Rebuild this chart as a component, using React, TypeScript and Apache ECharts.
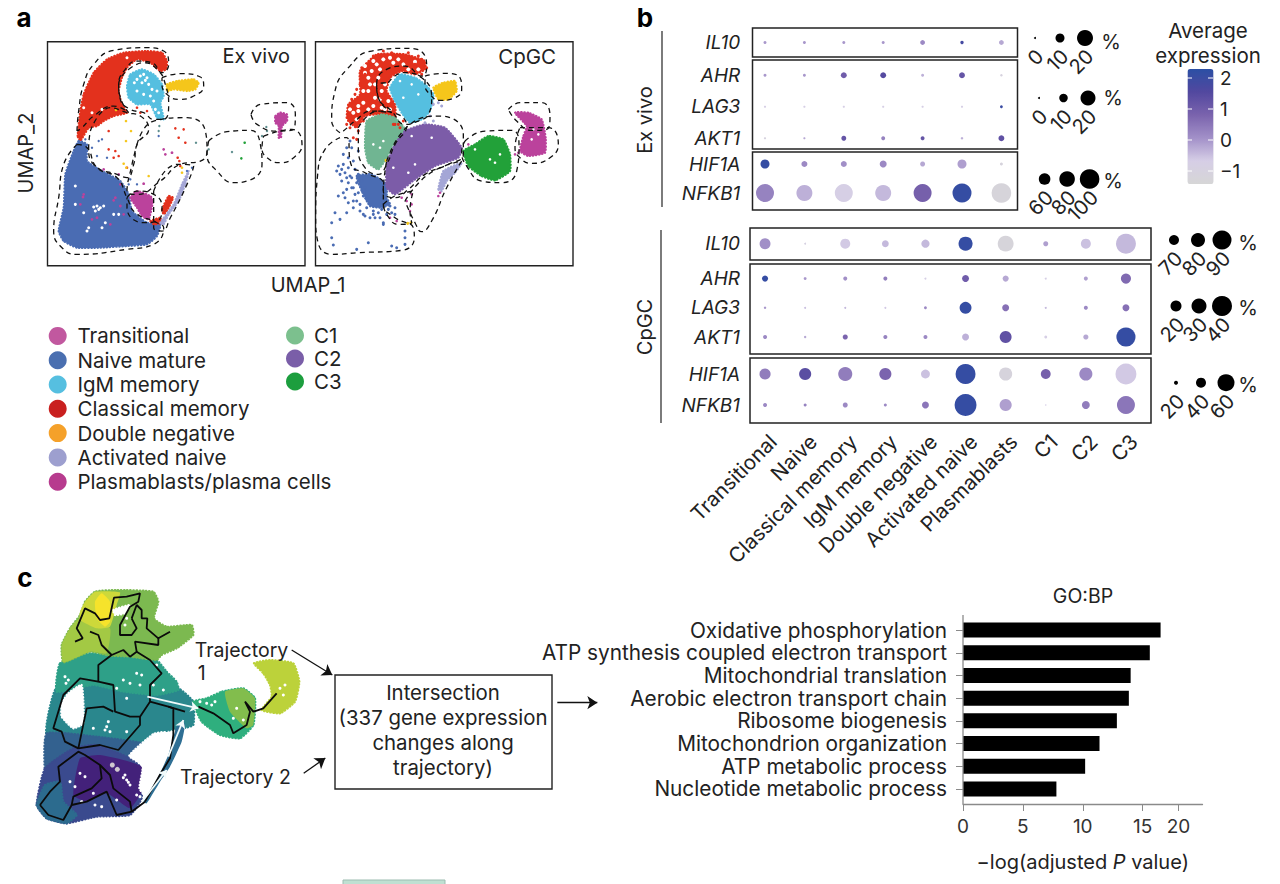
import React, { useEffect, useRef } from "react";
import * as echarts from "echarts";

const FONT = "Inter";
type P = number[];

/* ---------- panel a: cluster palette ---------- */
const legendColA = ["Transitional", "Naive mature", "IgM memory", "Classical memory", "Double negative", "Activated naive", "Plasmablasts/plasma cells"];
const legendColB = ["C1", "C2", "C3"];
const legendColors: Record<string, string> = {
  "Transitional": "#c1589f", "Naive mature": "#4a6fb0", "IgM memory": "#56bfe0", "Classical memory": "#c9201f",
  "Double negative": "#f5a12a", "Activated naive": "#9d9fcf", "Plasmablasts/plasma cells": "#b73b8e",
  "C1": "#7cc08e", "C2": "#7a5ea8", "C3": "#1c9e3e",
};
const RED = "#e3311d", CYAN = "#55bfe0", YEL = "#f5c61b", BLUE = "#4a6cb3", MAG = "#bb429c", LAV = "#a4a6d6", C1C = "#70b592", C2C = "#7c5ca8", C3C = "#22a139";

/* Ex vivo: filled cluster outlines (UMAP-like units) */
const exRed: P[] = [[92,285],[100,210],[110,160],[140,95],[180,55],[230,35],[300,30],[345,35],[360,60],[358,85],[340,90],[310,65],[270,55],[240,80],[225,110],[215,150],[225,190],[240,215],[200,225],[170,240],[150,255],[125,260],[100,300]];
const exCyan: P[] = [[250,100],[285,85],[320,100],[345,130],[350,165],[340,185],[350,235],[330,230],[310,190],[270,190],[245,170],[240,135]];
const exYellow: P[] = [[360,130],[390,120],[440,115],[455,125],[445,145],[420,150],[380,145],[360,150]];
const exBlue: P[] = [[95,300],[120,310],[120,360],[165,390],[220,420],[245,460],[255,510],[300,545],[340,550],[330,585],[300,610],[240,615],[160,620],[90,620],[50,600],[35,570],[50,500],[55,400],[80,330]];
const exTrans: P[] = [[250,470],[270,450],[310,465],[318,480],[305,535],[285,525],[270,500]];
const exRedLowA: P[] = [[310,540],[340,530],[345,545],[320,550]];
const exRedLowB: P[] = [[345,505],[365,465],[378,470],[360,510],[350,520]];
const exLav: P[] = [[340,545],[380,490],[405,430],[425,390],[415,430],[395,480],[365,520],[350,550]];
const exPlasma: P[] = [[685,225],[700,215],[720,220],[720,240],[705,255],[702,290],[695,290],[695,255],[685,245]];
/* Ex vivo: stray cells */
const exRedDots: P[] = [[185,325],[205,330],[215,345],[240,380],[185,270],[385,262],[410,265],[395,290],[415,305],[392,350],[397,360],[400,375],[270,200],[300,210],[280,215],[200,350]];
const exYellowDots: P[] = [[237,240],[252,270],[237,300],[305,405],[230,368],[238,380],[405,380],[405,395],[207,207]];
const exMagDots: P[] = [[350,325],[355,340],[290,428],[375,335],[170,385],[215,400],[220,430],[110,460],[205,470],[100,490],[135,535],[150,530],[190,550],[230,520],[220,495],[108,468],[200,478]];
const exGreenDots: P[] = [[593,305],[583,352]];
const exSlateDots: P[] = [[555,333],[658,258],[660,270],[645,285],[447,305],[485,325],[335,270],[337,255]];
const exBlueDots: P[] = [[115,295],[165,295],[155,300],[135,320],[150,345],[180,350],[270,430],[250,415],[245,430],[335,285],[420,390],[435,380]];
const exWhite: P[] = [[150,495],[160,500],[145,510],[170,495],[110,515],[85,435],[175,545],[200,520],[125,560],[165,560],[215,520],[85,490],[120,570],[270,115],[290,100],[300,110],[285,125],[305,130],[270,150],[310,165],[320,180],[330,150],[155,505],[140,498],[280,105],[295,118],[262,125],[315,145],[290,160],[325,205],[335,215],[110,200],[135,215],[165,205],[240,50]];

/* Ex vivo: dashed gates */
const exGates: P[][] = [
  [[90,270],[95,210],[110,130],[140,70],[200,28],[300,20],[350,30],[365,70],[345,95],[315,65],[270,60],[235,85],[215,130],[222,175],[245,215],[200,195],[140,225],[105,260],[90,270]],
  [[245,85],[290,65],[335,90],[355,130],[365,190],[350,235],[320,235],[290,215],[250,205],[220,175],[215,130],[245,85]],
  [[345,110],[400,98],[460,108],[470,135],[440,165],[395,175],[360,160],[345,130],[345,110]],
  [[90,310],[50,370],[35,470],[20,570],[45,620],[90,640],[240,625],[320,610],[350,560],[330,545],[265,515],[240,470],[210,410],[150,380],[120,320],[90,310]],
  [[130,270],[190,200],[240,215],[280,225],[305,265],[270,310],[260,370],[240,410],[210,400],[145,375],[125,320],[130,270]],
  [[270,310],[320,240],[420,230],[475,270],[480,330],[460,360],[400,370],[340,420],[270,460],[240,450],[255,370],[270,310]],
  [[320,450],[390,370],[440,375],[420,430],[370,530],[345,570],[320,560],[320,450]],
  [[240,470],[270,450],[320,460],[345,500],[330,540],[290,545],[240,500],[240,470]],
  [[485,300],[540,272],[610,268],[640,310],[645,370],[600,420],[560,425],[510,390],[480,340],[485,300]],
  [[612,220],[640,190],[720,185],[745,220],[740,265],[690,270],[630,250],[612,220]],
  [[650,285],[735,265],[765,310],[740,350],[700,365],[660,350],[645,320],[650,285]],
];

/* CpGC: filled cluster outlines */
const cpRed: P[] = [[95,230],[100,190],[135,160],[135,90],[185,40],[270,40],[330,60],[330,85],[300,100],[260,90],[225,110],[215,150],[240,190],[240,240],[200,220],[150,225],[125,260],[100,240]];
const cpCyan: P[] = [[225,140],[255,100],[300,110],[330,130],[355,160],[345,210],[320,235],[285,245],[260,215],[240,180]];
const cpYellow: P[] = [[355,140],[385,125],[420,120],[425,150],[400,175],[370,175]];
const cpC1: P[] = [[155,240],[200,220],[240,230],[270,265],[235,310],[215,350],[190,385],[160,365],[150,320]];
const cpC2: P[] = [[270,270],[330,250],[390,260],[440,320],[430,350],[360,375],[300,415],[240,460],[215,440],[215,370],[240,310]];
const cpC3: P[] = [[445,330],[480,310],[520,285],[565,295],[585,340],[585,390],[540,418],[500,405],[460,375]];
const cpLav: P[] = [[370,445],[385,390],[440,365],[420,395],[395,420],[380,450]];
const cpPlasma: P[] = [[600,215],[640,215],[680,235],[692,290],[690,335],[640,345],[615,330],[625,285],[635,255]];
const cpBlue: P[] = [[125,405],[170,400],[215,430],[215,470],[225,490],[195,500],[165,495],[140,450]];
/* CpGC: scattered cells */
const cpRedDots: P[] = [[115,290],[105,260],[125,295],[95,250],[205,30],[150,100],[155,120],[135,130],[120,160],[165,165],[200,170],[255,70],[300,70],[325,70],[320,100],[240,250],[255,260],[235,250],[130,270],[175,45],[230,35],[280,35],[310,45],[140,80],[125,145],[110,175],[320,55],[335,80],[250,250],[265,240],[120,250],[145,240]];
const cpRedWhite: P[] = [[170,90],[190,110],[165,130],[195,85],[235,65],[280,85],[210,130],[180,170],[145,185],[115,215],[160,205],[130,210],[195,175],[220,180],[185,70],[160,110],[250,55],[300,62],[225,50],[145,150],[200,200],[150,75],[175,60],[205,55],[265,70],[310,85],[150,95],[180,130],[200,150],[160,150],[130,195],[175,195],[210,205],[225,205],[125,235],[105,205]];
const cpWhite: P[] = [[255,120],[290,130],[265,170],[310,160],[205,300],[195,320],[175,310],[350,290],[290,285],[480,325],[525,355],[540,365],[555,340],[650,295],[655,265],[670,280],[235,380],[280,395],[300,370]];
const cpYellowDots: P[] = [[213,358],[278,547],[288,545]];
const cpMagDots: P[] = [[260,470],[275,480],[290,490],[285,510],[290,460],[225,530],[245,540],[370,465],[600,340],[610,335],[375,455],[460,310]];
const cpLavDots: P[] = [[370,185],[355,190],[380,195],[345,225],[330,245],[355,240]];
const cpBlueDots: P[] = [[105,300],[95,320],[85,340],[100,350],[70,375],[85,370],[100,380],[115,360],[75,400],[90,395],[80,420],[100,425],[110,440],[70,465],[90,470],[100,485],[115,480],[135,510],[150,525],[165,530],[175,520],[195,530],[205,545],[215,520],[210,490],[240,500],[95,515],[60,515],[75,535],[50,545],[50,590],[55,612],[125,625],[160,605],[205,550],[230,615],[245,620],[270,590],[270,610],[270,570],[130,330],[110,320],[120,385],[95,410],[105,405],[125,425],[145,520],[155,500],[180,530],[225,495],[230,515],[120,460],[115,440],[110,410],[130,400],[140,420],[150,440],[130,455],[145,465],[125,480],[135,490],[155,475],[115,500],[175,510],[190,515],[200,505],[220,505],[80,385],[65,390],[95,445],[85,455],[240,520]];

const cpGates: P[][] = [
  [[75,275],[50,240],[60,150],[100,80],[170,30],[280,22],[330,45],[335,80],[320,105],[270,75],[215,85],[185,130],[190,170],[230,215],[170,210],[120,240],[85,270],[75,275]],
  [[220,125],[265,95],[320,110],[350,170],[340,220],[310,240],[270,250],[230,210],[190,170],[185,130],[220,125]],
  [[330,105],[385,97],[435,110],[440,145],[415,172],[375,178],[345,160],[330,130],[330,105]],
  [[75,290],[30,325],[8,400],[2,530],[8,600],[50,640],[130,635],[260,628],[298,590],[295,560],[240,530],[205,490],[205,430],[150,395],[110,375],[95,290],[75,290]],
  [[130,260],[190,210],[235,215],[275,255],[240,310],[215,370],[190,400],[150,380],[130,320],[130,260]],
  [[215,360],[285,250],[375,225],[445,280],[445,340],[400,370],[330,400],[280,445],[240,470],[205,450],[215,360]],
  [[270,480],[340,400],[440,360],[395,440],[350,540],[320,572],[300,545],[270,480]],
  [[205,490],[240,465],[295,450],[285,510],[290,545],[250,550],[215,520],[205,490]],
  [[450,300],[510,270],[590,268],[612,310],[605,390],[560,425],[500,420],[455,375],[440,330],[450,300]],
  [[580,205],[615,185],[680,185],[705,225],[695,265],[650,268],[605,240],[580,205]],
  [[615,260],[700,260],[730,310],[705,350],[650,367],[615,350],[600,320],[615,260]],
];

/* ---------- panel b: dot plot ---------- */
const exCols = ["Transitional", "Naive", "Classical memory", "IgM memory", "Double negative", "Activated naive", "Plasmablasts"];
const cpCols = [...exCols, "C1", "C2", "C3"];
const genesA = ["IL10"], genesB = ["AHR", "LAG3", "AKT1"], genesC = ["HIF1A", "NFKB1"];

const exIL10Pct = [1.5,1.5,1.5,1.5,4,2,4], exIL10Avg = [0,0,0,0,0.2,1.8,-0.2];
const exAHRPct = [1.5,1.5,6,6,1.5,6,0.8], exAHRAvg = [0,0,1,1.5,-0.3,1.2,-1];
const exLAG3Pct = [0.3,0.3,0.3,0.3,0.3,0.3,1.2], exLAG3Avg = [-0.7,-0.7,-0.7,-0.7,-0.7,-0.7,2];
const exAKT1Pct = [0.3,0.3,4.5,3,3,0.8,6], exAKT1Avg = [-1,-0.2,1.2,0.3,1.2,-0.3,1.3];
const exHIF1APct = [47,32,32,37,27,47,17], exHIF1AAvg = [2.1,0.2,0.1,0.2,-0.2,-0.1,-1.1];
const exNFKB1Pct = [92,82,92,82,92,97,100], exNFKB1Avg = [0.3,-0.3,-0.7,-0.4,0.9,2.1,-1.2];
const cpIL10Pct = [72,52,70,63,66,79,83,59,70,92], cpIL10Avg = [0.1,-0.9,-0.6,-0.4,-0.4,2.1,-1.2,-0.1,-0.5,-0.4];
const cpAHRPct = [9,2,4.5,4.5,0,11,9,0,4.5,18], cpAHRAvg = [2.1,0,0.1,0.4,-0.7,1,-0.2,-0.7,-0.1,0.7];
const cpLAG3Pct = [1,0,0,0,2,22,11,0,4.5,11], cpLAG3Avg = [0,-0.5,-0.4,-0.6,0.2,2.1,0.6,-0.4,0.2,0.6];
const cpAKT1Pct = [4.5,1,7,4.5,4.5,11,22,2,7,38], cpAKT1Avg = [0.2,-0.2,0.8,0.3,0.2,-0.3,1.3,-0.7,-0.2,2.1];
const cpHIF1APct = [42,45,51,45,35,69,48,38,48,72], cpHIF1AAvg = [0.4,1.4,0.4,0.8,-0.5,2.1,-1.1,0.9,0.2,-0.6];
const cpNFKB1Pct = [20,17,23,17,29,75,45,12,32,63], cpNFKB1Avg = [0.2,0.3,0.2,0.2,0.5,2.1,-0.1,-0.6,0.4,0.5];

const colorbarTicks = [2, 1, 0, -1];
const colorbarLabels = ["2", "1", "0", "\u22121"];

/* ---------- panel c: trajectory map outlines ---------- */
const cLime: P[] = [[165,50],[195,20],[260,15],[370,20],[385,50],[372,100],[410,125],[485,120],[490,150],[440,190],[395,210],[380,225],[300,215],[240,212],[180,200],[100,232],[95,180],[120,130],[150,90]];
const cOliveLeft: P[] = [[100,232],[95,180],[120,130],[150,100],[240,130],[230,205],[180,200]];
const cYellowGreen: P[] = [[150,80],[165,50],[195,20],[270,22],[260,60],[240,125],[200,130],[150,105]];
const cYellow: P[] = [[195,50],[215,25],[240,50],[240,110],[225,125],[200,100]];
const cTealGreen: P[] = [[90,235],[180,205],[240,212],[300,215],[380,225],[410,260],[440,290],[445,315],[380,330],[280,320],[190,300],[80,320]];
const cTeal: P[] = [[78,310],[190,290],[280,310],[380,320],[445,310],[490,350],[490,420],[460,430],[400,440],[335,480],[280,470],[200,460],[50,450]];
const cBlue: P[] = [[50,445],[200,455],[280,465],[335,475],[320,510],[290,520],[200,490],[130,500],[70,530],[45,560]];
const cIndigo: P[] = [[45,550],[130,490],[200,480],[290,515],[330,545],[335,640],[300,690],[200,695],[110,715],[50,700],[20,660]];
const cDeepBlue: P[] = [[20,660],[45,600],[90,590],[100,650],[140,690],[110,715],[50,700]];
const cPurple: P[] = [[150,520],[210,510],[280,525],[335,545],[335,620],[300,670],[230,625],[170,650],[130,630]];
const cStrip: P[] = [[340,650],[380,585],[415,510],[440,425],[465,415],[455,470],[420,545],[390,590],[350,655]];
const cLobeLow: P[] = [[490,350],[530,340],[575,320],[640,310],[675,340],[670,420],[630,460],[570,450],[515,410]];
const cLobeInner: P[] = [[585,320],[640,310],[675,340],[670,420],[650,430],[600,380]];
const cLobeUp: P[] = [[672,235],[720,225],[790,235],[808,290],[795,350],[750,385],[695,375],[725,335],[720,300],[700,265]];
const cHoles: P[][] = [
  [[95,355],[115,325],[155,300],[160,415],[130,430],[95,395]],
  [[298,512],[370,447],[405,442],[408,495],[375,565],[340,625],[328,610],[338,540]],
  [[250,75],[300,60],[285,85],[255,90]],
];
const cSpecks: P[] = [[280,285],[300,295],[320,265],[335,270],[330,300],[260,310],[400,315],[370,300],[230,425],[240,440],[190,430],[290,440],[400,460],[120,590],[150,565],[190,625],[155,650],[195,660],[215,665],[260,645],[285,570],[290,585],[300,600],[320,630],[330,635],[285,120],[290,100],[530,355],[545,360],[555,350],[510,350],[610,400],[620,370],[640,405],[750,310],[765,300],[760,330],[290,340],[105,275],[115,285],[108,295],[280,578],[295,592],[135,605],[165,575],[225,435],[235,410],[420,240],[430,255],[450,285],[380,240]];
const cPaleDots: P[] = [[247,540],[262,553]];
const cTrajectories: P[][] = [
  [[135,170],[158,160],[140,130],[165,70],[195,85],[210,105],[238,100],[252,38],[290,35],[330,25],[325,50],[300,65],[270,120],[270,150],[305,150],[320,130],[305,100]],
  [[305,100],[320,60],[335,75],[335,100],[352,100],[350,130],[385,160],[420,140]],
  [[180,140],[205,150],[215,180],[245,210],[280,195],[300,215],[320,200],[315,170],[385,180],[385,160]],
  [[245,210],[205,240],[205,290],[250,300],[255,380],[300,395],[330,395],[360,350],[360,300],[395,265],[360,225],[320,200]],
  [[205,290],[150,280],[100,330],[70,430],[95,440],[105,470],[145,490],[170,370],[220,365],[250,380]],
  [[145,490],[210,480],[265,495],[330,420],[330,395]],
  [[30,660],[60,620],[90,590],[85,545],[145,500],[165,510],[210,540],[215,580],[185,610],[130,635],[125,660],[170,650],[230,620],[260,690],[305,680],[345,650]],
  [[210,540],[240,570],[250,610],[300,650],[305,680]],
  [[30,660],[55,690],[100,705],[125,660]],
  [[360,350],[415,365],[430,370],[430,450],[420,520],[395,560],[345,650]],
  [[415,365],[465,380]],
  [[505,365],[550,385],[600,420],[610,445],[650,420],[660,380],[645,350],[670,380],[700,370],[740,325]],
];
const cWhiteArrows: P[][] = [[[352,335],[505,370]], [[338,648],[410,555]], [[415,515],[460,405]]];
const cBlackArrows: P[][] = [[[785,195],[907,270]], [[821,565],[886,519]], [[1582,353],[1702,353]]];

/* ---------- panel c: GO:BP bars ---------- */
const goTerms = ["Oxidative phosphorylation", "ATP synthesis coupled electron transport", "Mitochondrial translation", "Aerobic electron transport chain", "Ribosome biogenesis", "Mitochondrion organization", "ATP metabolic process", "Nucleotide metabolic process"];
const goValues = [16.5, 15.6, 14, 13.85, 12.85, 11.4, 10.2, 7.8];
const goTicks = [0, 5, 10, 15, 18];
const goTickLabels = ["0", "5", "10", "15", "20"];

function buildOption() {
  const grids: any[] = [], xAxes: any[] = [], yAxes: any[] = [], series: any[] = [];
  const addAxes = (g: any, x: any, y: any) => {
    grids.push({ ...g, containLabel: false });
    const i = grids.length - 1;
    xAxes.push({ gridIndex: i, ...x });
    yAxes.push({ gridIndex: i, ...y });
    return i;
  };
  const hidden = { axisLine: { show: false }, axisTick: { show: false }, axisLabel: { show: false }, splitLine: { show: false } };
  const poly = (name: string, g: number, pts: P[], color: string, z = 2, rough = true) => series.push({
    type: "custom", name, xAxisIndex: g, yAxisIndex: g, data: pts, encode: { x: 0, y: 1 }, silent: true, z, clip: true,
    renderItem: (params: any, api: any) => params.dataIndex !== 0 ? null : ({
      type: "polygon", shape: { points: pts.map((p) => api.coord(p)), smooth: 0.15 },
      style: rough ? { fill: color, stroke: color, lineWidth: 2.2, lineDash: [0.5, 2.6], lineCap: "round" } : { fill: color },
    }),
  });
  const dots = (name: string, g: number, pts: P[], color: string, size = 2.6, z = 3) => series.push({
    type: "scatter", name, xAxisIndex: g, yAxisIndex: g, data: pts, symbolSize: size, itemStyle: { color, opacity: 1 }, silent: true, z,
  });
  const gates = (g: number, list: P[][]) => list.forEach((pts) => series.push({
    type: "line", xAxisIndex: g, yAxisIndex: g, data: pts, smooth: 0.5, showSymbol: false, silent: true, z: 5,
    lineStyle: { color: "#111", width: 1.3, type: [5, 4] },
  }));

  /* panel a */
  const frame = { show: true, borderColor: "#222", borderWidth: 1.4, backgroundColor: "#fff" };
  const gEx = addAxes({ left: 47.5, top: 41.7, width: 257.5, height: 224 },
    { type: "value", min: 1.5, max: 774, ...hidden }, { type: "value", min: 2, max: 674, inverse: true, ...hidden });
  grids[gEx] = { ...grids[gEx], ...frame };
  const gCp = addAxes({ left: 315.5, top: 41.7, width: 257.5, height: 224 },
    { type: "value", min: 1.5, max: 774, ...hidden }, { type: "value", min: 2, max: 674, inverse: true, ...hidden });
  grids[gCp] = { ...grids[gCp], ...frame };

  poly("Classical memory", gEx, exRed, RED);
  poly("IgM memory", gEx, exCyan, CYAN);
  poly("Double negative", gEx, exYellow, YEL);
  poly("Naive mature", gEx, exBlue, BLUE);
  poly("Transitional", gEx, exTrans, MAG, 3);
  poly("Classical memory", gEx, exRedLowA, RED, 3);
  poly("Classical memory", gEx, exRedLowB, RED, 3);
  poly("Activated naive", gEx, exLav, LAV, 3);
  poly("Plasmablasts/plasma cells", gEx, exPlasma, MAG);
  dots("", gEx, exWhite, "#ffffff", 3, 3);
  dots("Classical memory", gEx, exRedDots, RED, 2.6, 4);
  dots("Double negative", gEx, exYellowDots, YEL, 2.6, 4);
  dots("Transitional", gEx, exMagDots, MAG, 2.8, 4);
  dots("C3", gEx, exGreenDots, C3C, 2.6, 4);
  dots("C1", gEx, exSlateDots, "#5f8f8f", 2.4, 4);
  dots("Naive mature", gEx, exBlueDots, BLUE, 2.4, 4);
  gates(gEx, exGates);

  poly("Classical memory", gCp, cpRed, RED);
  poly("Naive mature", gCp, cpBlue, BLUE);
  poly("IgM memory", gCp, cpCyan, CYAN, 3);
  poly("Double negative", gCp, cpYellow, YEL, 3);
  poly("C1", gCp, cpC1, C1C, 3);
  poly("C2", gCp, cpC2, C2C, 3);
  poly("C3", gCp, cpC3, C3C, 3);
  poly("Activated naive", gCp, cpLav, LAV);
  poly("Plasmablasts/plasma cells", gCp, cpPlasma, MAG);
  dots("", gCp, cpRedWhite, "#ffffff", 4, 3);
  dots("Classical memory", gCp, cpRedDots, RED, 3, 4);
  dots("", gCp, cpWhite, "#ffffff", 2.6, 4);
  dots("Naive mature", gCp, cpBlueDots, BLUE, 3, 4);
  dots("Double negative", gCp, cpYellowDots, YEL, 3, 4);
  dots("Transitional", gCp, cpMagDots, MAG, 2.6, 4);
  dots("Activated naive", gCp, cpLavDots, LAV, 3, 4);
  gates(gCp, cpGates);

  /* panel b */
  const dotSeries: number[] = [];
  const dotGroup = (left: number, width: number, top: number, height: number, rows: string[], cols: string[],
    rowsPct: number[][], rowsAvg: number[][], a: number, b: number) => {
    const g = addAxes({ left, width, top, height },
      { type: "category", data: cols, ...hidden },
      { type: "category", data: rows, inverse: true, axisLine: { show: false }, axisTick: { show: false }, splitLine: { show: false },
        axisLabel: { margin: 5, fontFamily: FONT, fontStyle: "italic", fontSize: 19, color: "#222" } });
    const data: number[][] = [];
    rowsPct.forEach((pcts, r) => pcts.forEach((p, c) => data.push([c, r, p, rowsAvg[r][c]])));
    series.push({ type: "scatter", xAxisIndex: g, yAxisIndex: g, data, silent: true, z: 4,
      symbolSize: (v: number[]) => a + b * v[2], itemStyle: { opacity: 1 } });
    dotSeries.push(series.length - 1);
  };
  dotGroup(745.3, 275.8, 27, 31, genesA, exCols, [exIL10Pct], [exIL10Avg], 2, 0.7);
  dotGroup(745.3, 275.8, 59.5, 94.5, genesB, exCols, [exAHRPct, exLAG3Pct, exAKT1Pct], [exAHRAvg, exLAG3Avg, exAKT1Avg], 2, 0.65);
  dotGroup(745.3, 275.8, 149.5, 58, genesC, exCols, [exHIF1APct, exNFKB1Pct], [exHIF1AAvg, exNFKB1Avg], -0.4, 0.2);
  dotGroup(745, 401, 227.7, 32, genesA, cpCols, [cpIL10Pct], [cpIL10Avg], -21.5, 0.45);
  dotGroup(745, 401, 264, 87.6, genesB, cpCols, [cpAHRPct, cpLAG3Pct, cpAKT1Pct], [cpAHRAvg, cpLAG3Avg, cpAKT1Avg], 2, 0.45);
  dotGroup(745, 401, 358.5, 62, genesC, cpCols, [cpHIF1APct, cpNFKB1Pct], [cpHIF1AAvg, cpNFKB1Avg], -2.5, 0.325);
  /* cell-type labels under the CpGC block */
  addAxes({ left: 753, width: 401, top: 419, height: 2 },
    { type: "category", data: cpCols, axisLine: { show: false }, axisTick: { show: false },
      axisLabel: { rotate: 45, margin: 17, interval: 0, fontFamily: FONT, fontSize: 20.5, color: "#222" } },
    { type: "value", ...hidden });

  const sizeLegend = (x0: number, step: number, y: number, labels: string[], sizes: number[], pcts: number[]) => {
    const g = addAxes({ left: x0 - step / 2, width: 3 * step, top: y - 10, height: 20 },
      { type: "category", data: labels, ...hidden },
      { type: "category", data: [""], ...hidden });
    series.push({ type: "scatter", xAxisIndex: g, yAxisIndex: g, silent: true, z: 4, itemStyle: { color: "#000", opacity: 1 },
      data: pcts.map((p, i) => [i, 0, p, sizes[i]]), symbolSize: (v: number[]) => v[3] });
    addAxes({ left: x0 - step / 2 + 5, width: 3 * step, top: y + 9, height: 1 },
      { type: "category", data: labels, axisLine: { show: false }, axisTick: { show: false },
        axisLabel: { rotate: 45, margin: 5, interval: 0, fontFamily: FONT, fontSize: 20, color: "#222" } },
      { type: "value", ...hidden });
  };
  sizeLegend(1035, 25, 38, ["0", "10", "20"], [2, 9, 16], [0, 10, 20]);
  sizeLegend(1039, 24.5, 98, ["0", "10", "20"], [2, 8.5, 15], [0, 10, 20]);
  sizeLegend(1044.6, 22.5, 179, ["60", "80", "100"], [11.6, 15.6, 19.6], [60, 80, 100]);
  sizeLegend(1174, 24, 240, ["70", "80", "90"], [10, 14, 19], [70, 80, 90]);
  sizeLegend(1176, 23, 306, ["20", "30", "40"], [11, 15, 20], [20, 30, 40]);
  sizeLegend(1176, 25, 382.7, ["20", "40", "60"], [4, 10, 17], [20, 40, 60]);

  /* panel c map */
  const gC = addAxes({ left: 30, top: 585, width: 580, height: 245 },
    { type: "value", min: 0, max: 1740, ...hidden }, { type: "value", min: 0, max: 735, inverse: true, ...hidden });
  poly("", gC, cTeal, "#2a878d", 2);
  poly("", gC, cBlue, "#33618f", 2);
  poly("", gC, cIndigo, "#3a4a8e", 2);
  poly("", gC, cDeepBlue, "#2c6b8e", 2);
  poly("", gC, cPurple, "#43217a", 3, false);
  poly("", gC, cTealGreen, "#2ea088", 2);
  poly("", gC, cLime, "#7cb950", 2);
  poly("", gC, cOliveLeft, "#a3c944", 2, false);
  poly("", gC, cYellowGreen, "#cdd83a", 3, false);
  poly("", gC, cYellow, "#f6e32b", 3, false);
  poly("", gC, cStrip, "#2f6f94", 3, false);
  poly("", gC, cLobeLow, "#2faf7e", 2);
  poly("", gC, cLobeInner, "#82bd4d", 3, false);
  poly("", gC, cLobeUp, "#bcd23a", 2);
  cHoles.forEach((h) => poly("", gC, h, "#ffffff", 4));
  dots("", gC, cSpecks, "#ffffff", 3, 4);
  dots("", gC, cPaleDots, "#cfc8cf", 5, 6);
  cTrajectories.forEach((t) => series.push({ type: "line", xAxisIndex: gC, yAxisIndex: gC, data: t, showSymbol: false, silent: true, z: 5,
    lineStyle: { color: "#0b0b0b", width: 1.8 } }));
  series.push({ type: "lines", coordinateSystem: "cartesian2d", xAxisIndex: gC, yAxisIndex: gC, silent: true, z: 6,
    data: cWhiteArrows.map((c) => ({ coords: c })), symbol: ["none", "arrow"], symbolSize: 8, lineStyle: { color: "#f2fbfb", width: 1.8, opacity: 1, curveness: 0 } });
  series.push({ type: "lines", coordinateSystem: "cartesian2d", xAxisIndex: gC, yAxisIndex: gC, silent: true, z: 6,
    data: cBlackArrows.map((c) => ({ coords: c })), symbol: ["none", "arrow"], symbolSize: 10, lineStyle: { color: "#111", width: 1.3, opacity: 1, curveness: 0 } });

  /* GO bars */
  const gBar = addAxes({ left: 963, width: 239.5, top: 618.7, height: 181.6 },
    { type: "value", min: 0, max: 20, offset: 3.7, splitLine: { show: false }, axisLine: { show: true, lineStyle: { color: "#8a8a8a", width: 1.3 } },
      axisTick: { show: true, length: 7, lineStyle: { color: "#8a8a8a" }, customValues: goTicks },
      axisLabel: { margin: 13, fontFamily: FONT, fontSize: 19, color: "#333", customValues: goTicks, formatter: (v: number) => goTickLabels[goTicks.indexOf(v)] ?? "" },
      name: "{a|\u2212log(adjusted }{b|P}{a| value)}", nameLocation: "middle", nameGap: 48,
      nameTextStyle: { rich: { a: { fontFamily: FONT, fontSize: 20, color: "#222" }, b: { fontFamily: FONT, fontSize: 20, fontStyle: "italic", color: "#222" } } } },
    { type: "category", data: goTerms, inverse: true, splitLine: { show: false }, axisLine: { show: false },
      axisTick: { show: true, alignWithLabel: true, length: 7, lineStyle: { color: "#8a8a8a" } },
      axisLabel: { margin: 16, interval: 0, fontFamily: FONT, fontSize: 20.8, color: "#222" } });
  series.push({ type: "bar", xAxisIndex: gBar, yAxisIndex: gBar, data: goValues, barWidth: 15, silent: true, itemStyle: { color: "#000" } });

  const txt = (x: number, y: number, text: string, size = 20, extra: any = {}, el: any = {}) => ({
    type: "text", x, y, z: 20, silent: true, ...el,
    style: { text, x: 0, y: 0, fontFamily: FONT, fontSize: size, fill: "#222", textAlign: "center", textVerticalAlign: "middle", ...extra },
  });
  const vline = (x: number, y1: number, y2: number, color = "#444", w = 1.4) => ({ type: "line", z: 20, silent: true, shape: { x1: x, y1, x2: x, y2 }, style: { stroke: color, lineWidth: w } });
  const box = (x: number, y: number, w: number, h: number, lw = 1.5) => ({ type: "rect", z: 1, silent: true, shape: { x, y, width: w, height: h }, style: { fill: "none", stroke: "#222", lineWidth: lw } });

  const graphic: any[] = [
    txt(24, 17, "a", 26, { fontWeight: "bold", fill: "#000" }),
    txt(645, 17, "b", 26, { fontWeight: "bold", fill: "#000" }),
    txt(25, 577, "c", 26, { fontWeight: "bold", fill: "#000" }),
    txt(290, 56, "Ex vivo", 20, { textAlign: "right" }),
    txt(556, 56, "CpGC", 20.5, { textAlign: "right" }),
    txt(308, 285, "UMAP_1", 20),
    txt(26, 153, "UMAP_2", 20, {}, { rotation: Math.PI / 2 }),
    vline(662, 31, 207), vline(661, 230, 423),
    txt(645, 120, "Ex vivo", 20, {}, { rotation: Math.PI / 2 }),
    txt(645, 327, "CpGC", 20, {}, { rotation: Math.PI / 2 }),
    box(752.5, 28, 265, 29), box(752.5, 60, 265, 89), box(752.5, 152, 265, 58),
    box(750, 228, 401, 32), box(750, 264, 401, 90), box(750, 358, 401, 65),
    ...[[1111, 42], [1113, 98], [1113, 181], [1248, 243], [1248, 308], [1248, 385]].map((p) => txt(p[0], p[1], "%", 20)),
    txt(1208, 30, "Average", 20.5), txt(1208, 55, "expression", 20.5),
    ...colorbarTicks.map((t, i) => txt(1220, 140 - t * 31, colorbarLabels[i], 19, { textAlign: "left" })),
    ...colorbarTicks.flatMap((t) => [
      { type: "line", z: 20, silent: true, shape: { x1: 1187, x2: 1192, y1: 140 - t * 31, y2: 140 - t * 31 }, style: { stroke: "#fff", lineWidth: 1 } },
      { type: "line", z: 20, silent: true, shape: { x1: 1208, x2: 1213, y1: 140 - t * 31, y2: 140 - t * 31 }, style: { stroke: "#fff", lineWidth: 1 } },
    ]),
    txt(241.5, 650, "Trajectory", 19.5), txt(201.7, 673, "1", 19.5), txt(235.5, 777, "Trajectory 2", 19.5),
    box(335, 675, 217, 114, 1.4),
    txt(443, 692, "Intersection", 20.4), txt(443, 717, "(337 gene expression", 20.4), txt(443, 742, "changes along", 20.4), txt(443, 767, "trajectory)", 20.4),
    txt(1083, 596, "GO:BP", 19.5),
    vline(963, 615, 804, "#8a8a8a", 1.3),
    { type: "rect", z: 2, silent: true, shape: { x: 343, y: 880, width: 102, height: 6 }, style: { fill: "#bfe0d2", stroke: "#9dbdb1", lineWidth: 1 } },
  ];

  const legendBase = { orient: "vertical", selectedMode: false, itemWidth: 18, itemHeight: 18, padding: 0 };
  const legendText = (pad: number) => ({ fontFamily: FONT, fontSize: 20.5, lineHeight: 18, color: "#222", padding: [0, 0, 0, pad] });
  const toItem = (name: string) => ({ name, icon: "circle", itemStyle: { color: legendColors[name] } });

  return {
    animation: false,
    backgroundColor: "#fff",
    grid: grids, xAxis: xAxes, yAxis: yAxes, series, graphic,
    legend: [
      { ...legendBase, left: 48.7, top: 325.4, itemGap: 3.3, textStyle: legendText(5.8), data: legendColA.map(toItem) },
      { ...legendBase, left: 286, top: 325, itemGap: 2, textStyle: legendText(5), data: legendColB.map(toItem) },
    ],
    visualMap: {
      type: "continuous", min: -1.39, max: 2.29, dimension: 3, seriesIndex: dotSeries, left: 1187.5, top: 69,
      itemWidth: 26, itemHeight: 115, calculable: false, hoverLink: false, text: null, padding: 0, showLabel: false,
      inRange: { color: ["#d6d6d6", "#d6cee6", "#a290c8", "#7a63ad", "#52489f", "#2b4fa4"] },
      textStyle: { color: "transparent" },
    },
  };
}

export default function App() {
  const ref = useRef<HTMLDivElement>(null);
  useEffect(() => {
    document.body.style.margin = "0";
    const chart = echarts.init(ref.current!, undefined, { renderer: "svg" });
    chart.setOption(buildOption() as any);
    return () => chart.dispose();
  }, []);
  return <div ref={ref} style={{ width: 1280, height: 884 }} />;
}
